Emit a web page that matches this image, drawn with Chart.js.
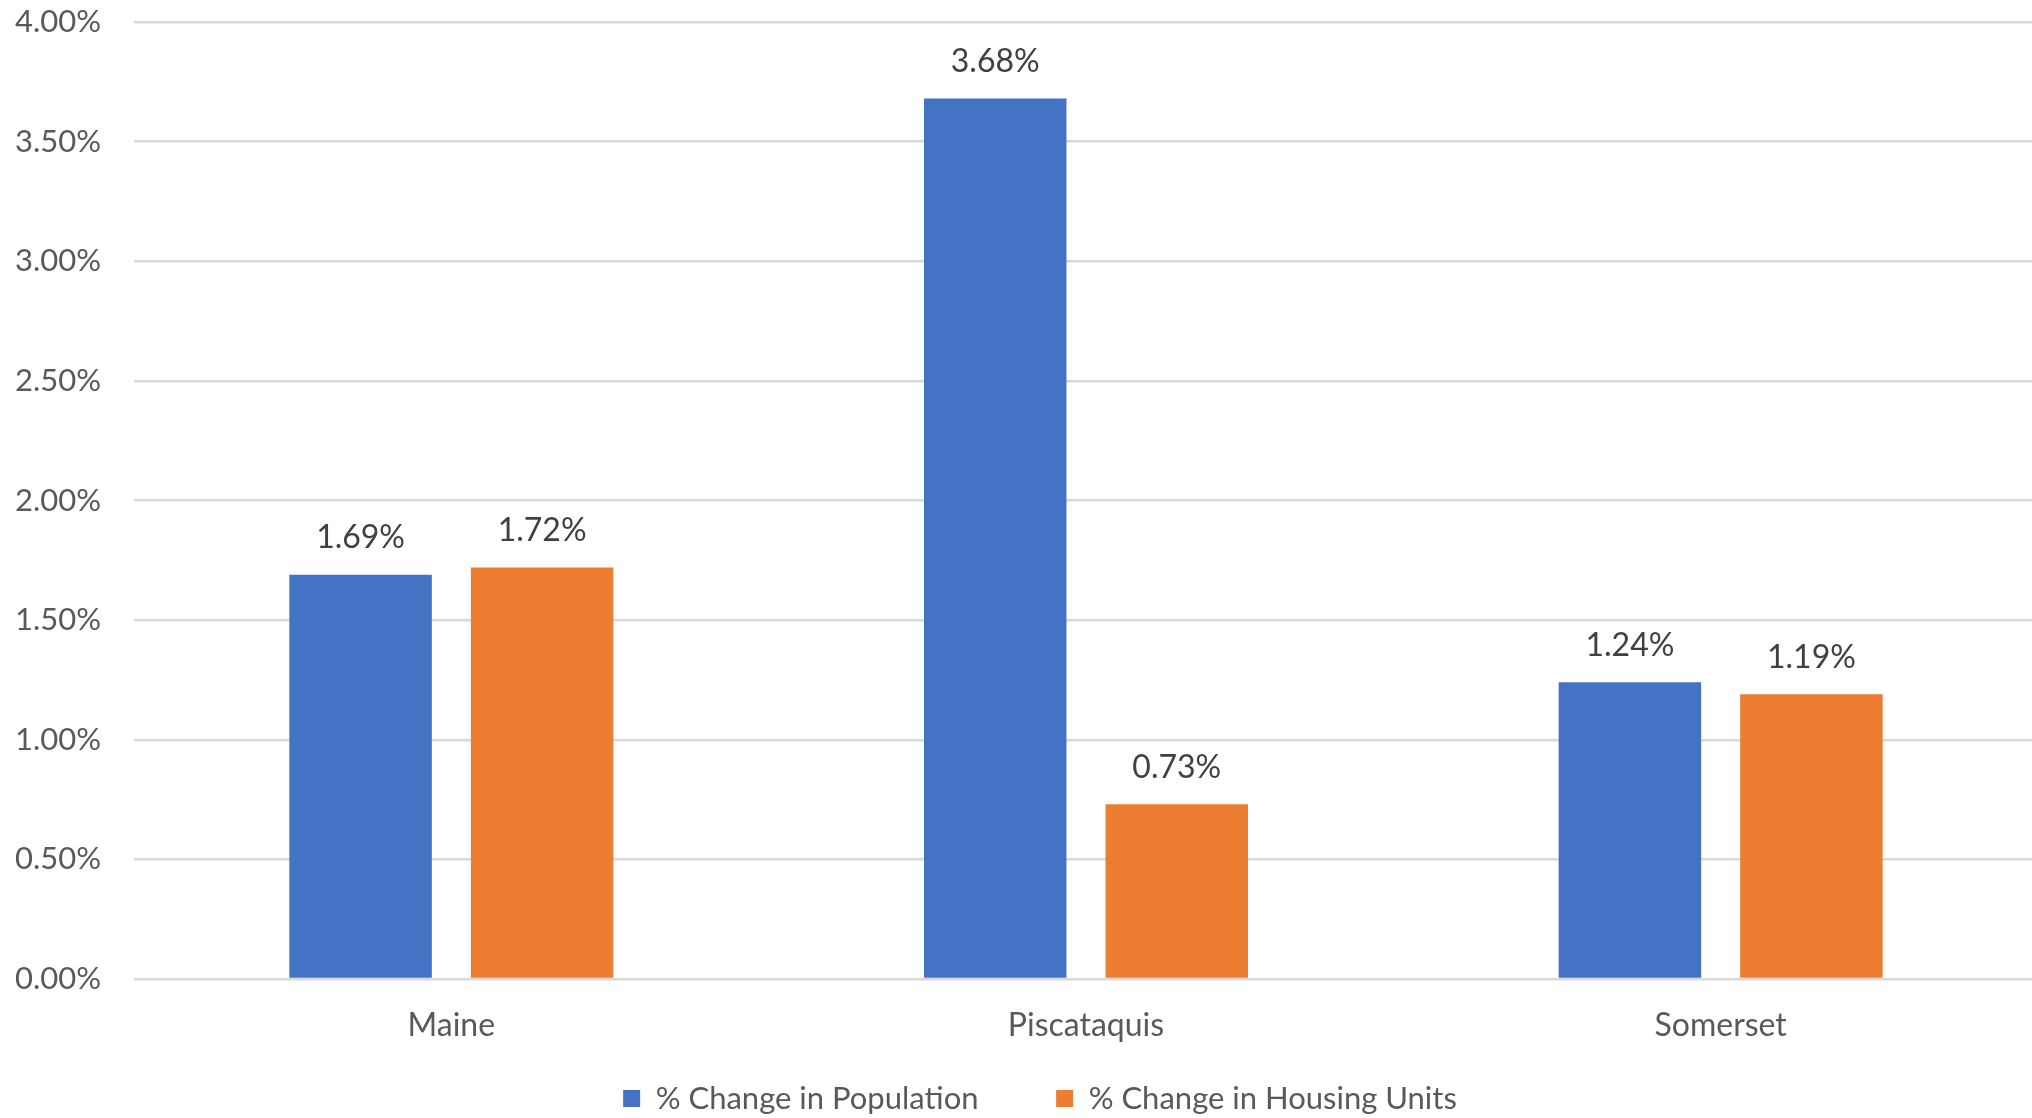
<!DOCTYPE html>
<html>
<head>
<meta charset="utf-8">
<script src="https://cdn.jsdelivr.net/npm/chart.js@4"></script>
<style>
  html, body { margin: 0; padding: 0; background: #ffffff; }
  #wrap { width: 2032px; height: 1118px; }
</style>
</head>
<body>
<div id="wrap"><canvas id="c" width="2032" height="1118"></canvas></div>
<script>
const categories = ["Maine", "Piscataquis", "Somerset"];
const populationChange = [1.69, 3.68, 1.24];
const housingChange = [1.72, 0.73, 1.19];
const seriesNames = ["% Change in Population", "% Change in Housing Units"];
const yTicks = [0, 0.5, 1, 1.5, 2, 2.5, 3, 3.5, 4];

const FONT = "Lato, 'Open Sans', sans-serif";
const TEXT_SIZE = 32;
const TICK_SIZE = 31;
const LEGEND_SIZE = 31;

// extra gap between the two legend entries, filled with spaces
function gapSpaces(px) {
  const c = document.createElement('canvas').getContext('2d');
  c.font = LEGEND_SIZE + "px " + FONT;
  const w = c.measureText(' ').width || 8;
  return ' '.repeat(Math.max(0, Math.round(px / w)));
}

const valueLabels = {
  id: 'valueLabels',
  afterDatasetsDraw(chart) {
    const ctx = chart.ctx;
    ctx.save();
    ctx.font = TEXT_SIZE + "px " + FONT;
    ctx.fillStyle = '#404040';
    ctx.textAlign = 'center';
    ctx.textBaseline = 'middle';
    chart.data.datasets.forEach((ds, i) => {
      const meta = chart.getDatasetMeta(i);
      meta.data.forEach((bar, j) => {
        ctx.fillText(ds.data[j].toFixed(2) + '%', bar.x, bar.y - 37);
      });
    });
    ctx.restore();
  }
};

// the category axis of the reference runs a few pixels past the right edge
const extendX = {
  id: 'extendX',
  afterLayout(chart) {
    const x = chart.scales.x;
    x.right = chart.width + 6;
    x.width = x.right - x.left;
    x.configure();
  }
};

const legendShift = {
  id: 'legendShift',
  beforeDraw(chart) {
    if (chart.legend) { chart.legend.left = 48; chart.legend.right = 2032; }
  }
};

new Chart(document.getElementById('c'), {
  type: 'bar',
  data: {
    labels: categories,
    datasets: [
      { label: seriesNames[0], data: populationChange, backgroundColor: '#4472C4',
        categoryPercentage: 0.572, barPercentage: 0.785 },
      { label: seriesNames[1], data: housingChange, backgroundColor: '#ED7D31',
        categoryPercentage: 0.572, barPercentage: 0.785 }
    ]
  },
  options: {
    responsive: false,
    animation: false,
    devicePixelRatio: 1,
    layout: { padding: { left: 0, right: 0, top: 22, bottom: -6 } },
    plugins: {
      legend: {
        position: 'bottom',
        labels: {
          boxWidth: 17, boxHeight: 17, padding: 30,
          color: '#595959',
          font: { family: FONT, size: LEGEND_SIZE },
          generateLabels(chart) {
            const items = Chart.defaults.plugins.legend.labels.generateLabels(chart);
            const extra = gapSpaces(44);
            items.forEach((it, i) => { if (i < items.length - 1) it.text = it.text + extra; });
            return items;
          }
        }
      },
      tooltip: { enabled: false }
    },
    scales: {
      x: {
        grid: { display: false, drawTicks: false },
        border: { display: false },
        ticks: { color: '#595959', font: { family: FONT, size: TEXT_SIZE }, padding: 27 },
        afterFit(scale) { scale.height = 74; scale.paddingLeft = 0; scale.paddingRight = 0; }
      },
      y: {
        min: 0, max: 4,
        afterBuildTicks(scale) { scale.ticks = yTicks.map(v => ({ value: v })); },
        grid: { color: '#d9d9d9', lineWidth: 2.5, drawTicks: false },
        border: { display: false },
        ticks: {
          color: '#595959', font: { family: FONT, size: TICK_SIZE }, padding: 33,
          callback: (v) => Number(v).toFixed(2) + '%'
        },
        afterFit(scale) { scale.width = 134; scale.paddingTop = 0; scale.paddingBottom = 0; }
      }
    }
  },
  plugins: [valueLabels, extendX, legendShift]
});
</script>
</body>
</html>
